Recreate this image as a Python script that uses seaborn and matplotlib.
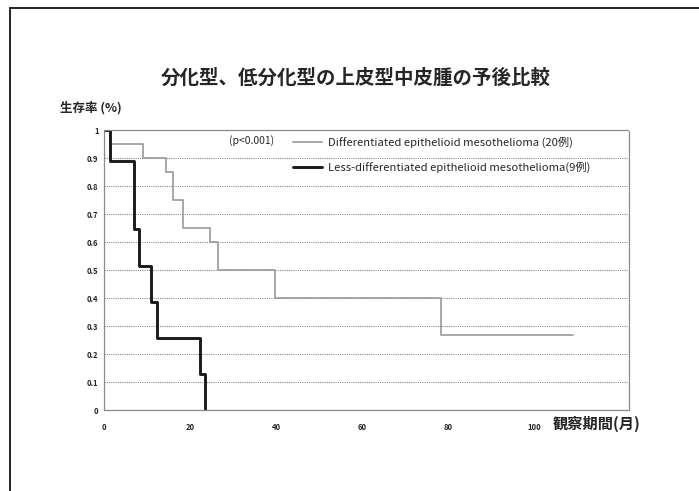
import numpy as np
import pandas as pd
import matplotlib
matplotlib.use("Agg")
import matplotlib.pyplot as plt
import seaborn as sns
from matplotlib.patches import Rectangle

# ---- data ----
title = "分化型、低分化型の上皮型中皮腫の予後比較"
ylabel = "生存率 (%)"
xlabel = "観察期間(月)"
pvalue_text = "(p<0.001)"
series_names = ["Differentiated epithelioid mesothelioma (20例)",
                "Less-differentiated epithelioid mesothelioma(9例)"]
diff_months = [0, 1.4, 9.1, 14.4, 16.1, 18.4, 24.6, 26.5, 39.7, 78.2, 109]
diff_surv = [1.0, 0.95, 0.90, 0.85, 0.75, 0.65, 0.60, 0.50, 0.40, 0.267, 0.267]
less_months = [0, 1.4, 7.0, 8.2, 11.0, 12.2, 22.3, 23.4]
less_surv = [1.0, 0.89, 0.645, 0.515, 0.386, 0.258, 0.129, 0.0]
x_ticks = [0, 20, 40, 60, 80, 100]
x_tick_labels = ["0", "20", "40", "60", "80", "100"]
y_ticks = [0, 0.1, 0.2, 0.3, 0.4, 0.5, 0.6, 0.7, 0.8, 0.9, 1.0]
y_tick_labels = ["0", "0.1", "0.2", "0.3", "0.4", "0.5", "0.6", "0.7", "0.8", "0.9", "1"]

sns.set_style("white")
plt.rcParams['font.family'] = ['Noto Sans CJK JP', 'DejaVu Sans']

W, H = 699, 491
fig = plt.figure(figsize=(W / 100, H / 100), dpi=100)
ax = fig.add_axes([104 / W, 1 - 410 / H, 525 / W, 280 / H])

df_diff = pd.DataFrame({"month": diff_months, "surv": diff_surv})
df_less = pd.DataFrame({"month": less_months, "surv": less_surv})

sns.lineplot(data=df_diff, x="month", y="surv", drawstyle="steps-post",
             color="#a0a0a0", linewidth=1.3, label=series_names[0], ax=ax)
sns.lineplot(data=df_less, x="month", y="surv", drawstyle="steps-post",
             color="#1a1a1a", linewidth=2.1, label=series_names[1], ax=ax)

ax.set_xlim(0, 122)
ax.set_ylim(0, 1)
ax.set_xticks(x_ticks)
ax.set_xticklabels(x_tick_labels)
ax.set_yticks(y_ticks)
ax.set_yticklabels(y_tick_labels)
ax.tick_params(length=0, labelsize=5.5)
ax.tick_params(axis="x", pad=9)
ax.tick_params(axis="y", pad=4)
ax.set_xlabel("")
ax.set_ylabel("")
for t in ax.get_xticklabels() + ax.get_yticklabels():
    t.set_fontweight("bold")

ax.grid(axis="y", color="#8a8a8a", linestyle=(0, (1, 1)), linewidth=0.8)
ax.grid(axis="x", visible=False)
for s in ax.spines.values():
    s.set_color("#8a8a8a")
    s.set_linestyle((0, (1, 1)))
    s.set_linewidth(0.9)

leg = ax.legend(loc="upper left", bbox_to_anchor=((293 - 104) / 525, 0.976),
                frameon=False, fontsize=8.1, handlelength=2.6,
                handletextpad=0.5, labelspacing=1.25, borderpad=0, borderaxespad=0)

ax.text((252 - 104) / 525, (410 - 141) / 280, pvalue_text, transform=ax.transAxes,
        ha="center", va="center", fontsize=7.5)

fig.text(356 / W, 1 - 78 / H, title, ha="center", va="center",
         fontsize=14, fontweight="bold")
fig.text(60 / W, 1 - 108 / H, ylabel, ha="left", va="center",
         fontsize=9, fontweight="bold")
fig.text(553 / W, 1 - 424 / H, xlabel, ha="left", va="center",
         fontsize=11, fontweight="bold")

fig.add_artist(Rectangle((10 / W, -0.2), 1.2, 1.2 - 8 / H, transform=fig.transFigure,
                         fill=False, edgecolor="#111111", linewidth=1.3))

fig.savefig("out.png", dpi=100)
